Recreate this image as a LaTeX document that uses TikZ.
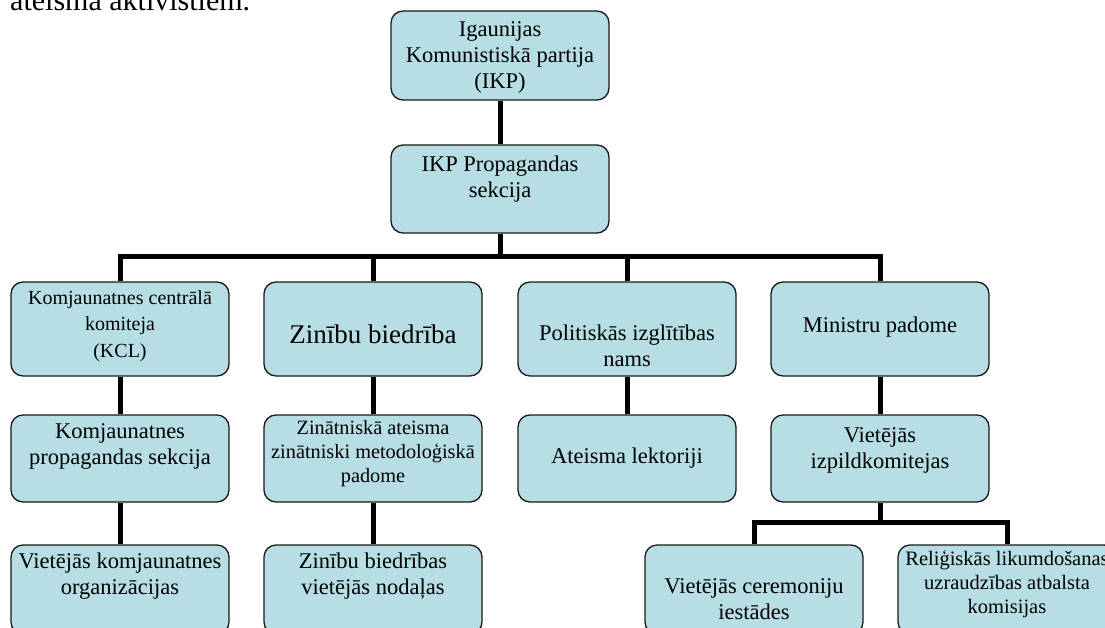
\documentclass[tikz,border=0pt]{standalone}
\usepackage{fontspec}
\setmainfont{Liberation Serif}
\definecolor{boxfill}{RGB}{183,222,228}

\tikzset{
  box/.style={draw=black!90, line width=1.3pt, rounded corners=12pt, fill=boxfill, minimum width=218pt, minimum height=89pt},
  txt/.style={align=center, font=\fontsize{22.5}{26}\selectfont},
  conn/.style={line width=5pt}
}

\begin{document}
\begin{tikzpicture}[x=1pt, y=-1pt]
\useasboundingbox (0,0) rectangle (1105,628);
\clip (0,0) rectangle (1105,628);
\node[anchor=base west, inner sep=0pt, font=\fontsize{30}{36}\selectfont] (intro) at (10,11) {ateisma aktivistiem.};

% party and propaganda section
\node[box, label={[txt, yshift=-2pt]center:{Igaunijas\\Komunistiskā partija\\(IKP)}}] (ikp) at (500,55.5) {};
\node[box, minimum height=88pt, label={[txt, yshift=10pt]center:{IKP Propagandas\\sekcija}}] (prop) at (500,189) {};

% second level
\node[box, minimum height=94pt, label={[txt, yshift=3pt, font=\fontsize{20}{26.5}\selectfont]center:{Komjaunatnes centrālā\\komiteja\\(KCL)}}] (kcl) at (120,329) {};
\node[box, minimum height=94pt, label={[txt, yshift=-5pt, font=\fontsize{27}{30}\selectfont]center:{Zinību biedrība}}] (zin) at (373,329) {};
\node[box, minimum height=94pt, label={[txt, yshift=-17pt]center:{Politiskās izglītības\\nams}}] (pol) at (627,329) {};
\node[box, minimum height=94pt, label={[txt, yshift=2pt]center:{Ministru padome}}] (min) at (880,329) {};

% third level
\node[box, minimum height=87pt, label={[txt, yshift=12pt]center:{Komjaunatnes\\propagandas sekcija}}] (kps) at (120,458.5) {};
\node[box, minimum height=87pt, label={[txt, yshift=5pt, font=\fontsize{20.3}{24}\selectfont]center:{Zinātniskā ateisma\\zinātniski metodoloģiskā\\padome}}] (zam) at (373,458.5) {};
\node[box, minimum height=87pt, label={[txt]center:{Ateisma lektoriji}}] (ate) at (627,458.5) {};
\node[box, minimum height=87pt, label={[txt, yshift=8pt]center:{Vietējās\\izpildkomitejas}}] (vik) at (880,458.5) {};

% fourth level
\node[box, label={[txt, yshift=13pt]center:{Vietējās komjaunatnes\\organizācijas}}] (vko) at (120,589.5) {};
\node[box, label={[txt, yshift=13pt]center:{Zinību biedrības\\vietējās nodaļas}}] (znod) at (373,589.5) {};
\node[box, label={[txt, yshift=-10pt]center:{Vietējās ceremoniju\\iestādes}}] (cer) at (754,589.5) {};
\node[box, label={[txt, yshift=5pt, font=\fontsize{20.5}{24}\selectfont]center:{Reliģiskās likumdošanas\\uzraudzības atbalsta\\komisijas}}] (rel) at (1007,589.5) {};

\coordinate (bus1) at (500,257);
\coordinate (bus2) at (880,522);

\draw[conn] (ikp) -- (prop);
\draw[conn] (prop) -- (bus1);
\draw[conn] (kcl) |- (bus1) -| (min);
\draw[conn] (zin) -- (zin |- bus1);
\draw[conn] (pol) -- (pol |- bus1);
\draw[conn] (kcl) -- (kps);
\draw[conn] (zin) -- (zam);
\draw[conn] (pol) -- (ate);
\draw[conn] (min) -- (vik);
\draw[conn] (kps) -- (vko);
\draw[conn] (zam) -- (znod);
\draw[conn] (vik) -- (bus2);
\draw[conn] (cer) |- (bus2) -| (rel);
\end{tikzpicture}
\end{document}
